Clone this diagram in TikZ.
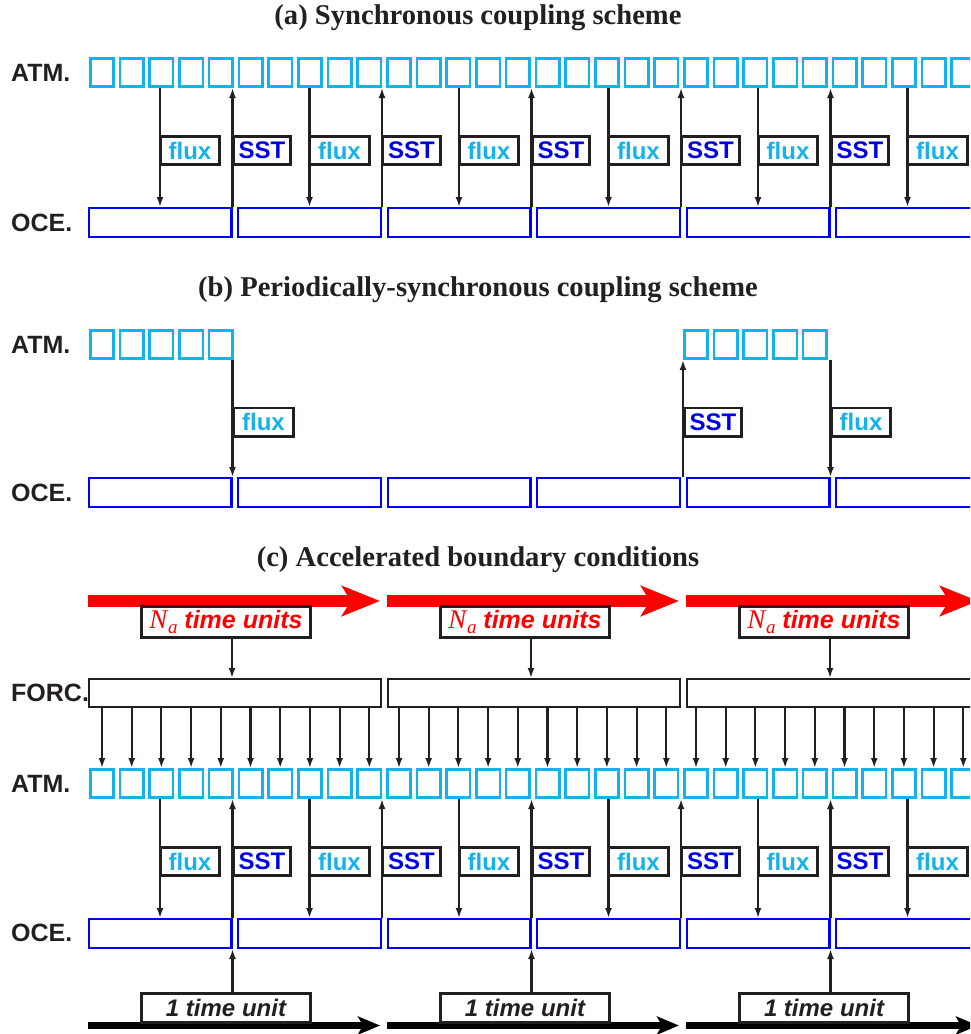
\documentclass[tikz,border=0pt]{standalone}
\usepackage{fontspec}
\setmainfont{Liberation Serif}
\setsansfont{Liberation Sans}
\usetikzlibrary{arrows.meta}
\definecolor{atmc}{RGB}{20,178,235}
\definecolor{ocec}{RGB}{0,0,255}
\definecolor{sstc}{RGB}{0,0,230}
\definecolor{dark}{RGB}{35,31,32}
\definecolor{redc}{RGB}{255,0,0}
\begin{document}
\begin{tikzpicture}[x=1pt,y=-1pt,
  atm/.style={draw=atmc,line width=2.6pt,minimum width=23.4pt,minimum height=28.4pt,inner sep=0pt},
  oce/.style={draw=ocec,line width=2.4pt,minimum width=142.6pt,minimum height=28.6pt,inner sep=0pt},
  forc/.style={draw=dark,line width=2.3pt,minimum width=291.7pt,minimum height=27.7pt,inner sep=0pt},
  side/.style={font=\sffamily\bfseries\fontsize{25}{25}\selectfont,text=dark,anchor=west,inner sep=0pt},
  fluxlab/.style={draw=dark,fill=white,line width=2.6pt,minimum width=59.4pt,minimum height=28.4pt,inner sep=0pt,anchor=west,text=atmc,font=\sffamily\bfseries\fontsize{24}{24}\selectfont},
  sstlab/.style={fluxlab,minimum width=57.4pt,text=sstc},
  arr/.style={draw=dark,line width=2.1pt,-{Latex[length=10pt,width=7pt]}},
  thickarr/.style={arr,line width=2.8pt},
  title/.style={font=\rmfamily\bfseries\fontsize{28.6}{30}\selectfont,text=dark},
  redarr/.style={draw=redc,line width=12pt,-{Stealth[length=38pt,width=30pt,inset=9pt]}},
  axisarr/.style={draw=black,line width=6.5pt,-{Stealth[length=22pt,width=18pt,inset=5pt]}},
  nalab/.style={draw=dark,fill=white,line width=3pt,minimum width=169pt,minimum height=31pt,inner sep=0pt,text=redc,font=\sffamily\bfseries\itshape\fontsize{25}{25}\selectfont},
  tulab/.style={draw=dark,fill=white,line width=3pt,minimum width=169pt,minimum height=29pt,inner sep=0pt,text=dark,font=\sffamily\bfseries\itshape\fontsize{24}{24}\selectfont}
]
\useasboundingbox (0,0) rectangle (970,1034);
\clip (0,0) rectangle (970,1034);

% titles
\node[title] (ta) at (478,18) {(a) Synchronous coupling scheme};
\node[title] (tb) at (478,290) {(b) Periodically-synchronous coupling scheme};
\node[title] (tc) at (478,560) {(c) Accelerated boundary conditions};

% side labels
\node[side] (la1) at (11,72.5) {ATM.};
\node[side] (la2) at (11,222.5) {OCE.};
\node[side] (lb1) at (11,344.5) {ATM.};
\node[side] (lb2) at (11,492.5) {OCE.};
\node[side] (lc0) at (11,693) {FORC.};
\node[side] (lc1) at (11,784) {ATM.};
\node[side] (lc2) at (11,932.5) {OCE.};

% panels (a) and (c): ATM / flux / SST / OCE
\foreach \pn/\yo in {a/0,c/711}{
  \foreach \i in {0,...,29}
    \node[atm] (atm\pn\i) at (102+29.7*\i,72.5+\yo) {};
  \foreach \p in {0,...,5}
    \node[oce] (oce\pn\p) at (160+149.5*\p,222.5+\yo) {};
  \foreach \p in {0,...,5}
    \draw[arr] (oce\pn\p.north |- atm\pn0.south) -- (oce\pn\p.north);
  \foreach \p in {0,...,4}
    \draw[arr] (oce\pn\p.north east) -- (oce\pn\p.north east |- atm\pn0.south);
  \foreach \p in {0,...,5}
    \node[fluxlab] (fl\pn\p) at (159+149.5*\p,150.5+\yo) {flux};
  \foreach \p in {0,...,4}
    \node[sstlab] (ss\pn\p) at (232+149.5*\p,150.5+\yo) {SST};
}

% panel (b)
\foreach \i in {0,...,4,20,21,22,23,24}
  \node[atm] (atmb\i) at (102+29.7*\i,344.5) {};
\foreach \p in {0,...,5}
  \node[oce] (oceb\p) at (160+149.5*\p,492.5) {};
\draw[arr] (oceb0.north east |- atmb4.south) -- (oceb0.north east);
\draw[arr] (atmb20.south west |- oceb4.north) -- (atmb20.south west);
\draw[arr] (oceb4.north east |- atmb24.south) -- (oceb4.north east);
\node[fluxlab] (flb0) at (232.5,422) {flux};
\node[sstlab] (ssb0) at (683,422) {SST};
\node[fluxlab] (flb1) at (830,422) {flux};

% panel (c): forcing, red arrows, time axis
\foreach \q in {0,1,2}{
  \draw[redarr] (88+299*\q,601) -- (380+299*\q,601);
  \draw[axisarr] (88+299*\q,1025.5) -- (380+299*\q,1025.5);
}
\foreach \q in {0,1,2}
  \node[forc] (forc\q) at (235+299*\q,693) {};
\foreach \q in {0,1,2}{
  \node[nalab] (na\q) at (226+299*\q,622) {{\rmfamily\mdseries\itshape\fontsize{27}{27}\selectfont N\kern0.5pt\raisebox{-5pt}{\fontsize{19}{19}\selectfont a}}\ time units};
  \draw[thickarr] ([xshift=6pt]na\q.south) -- ([xshift=6pt]na\q.south |- forc\q.north);
}
\foreach \i in {0,...,29}
  \draw[arr] (atmc\i.north |- forc0.south) -- (atmc\i.north);
\foreach \q/\k in {0/0,1/2,2/4}{
  \node[tulab] (tu\q) at (226+299*\q,1008) {1 time unit};
  \draw[thickarr] (ocec\k.south east |- tu\q.north) -- (ocec\k.south east);
}
\end{tikzpicture}
\end{document}
